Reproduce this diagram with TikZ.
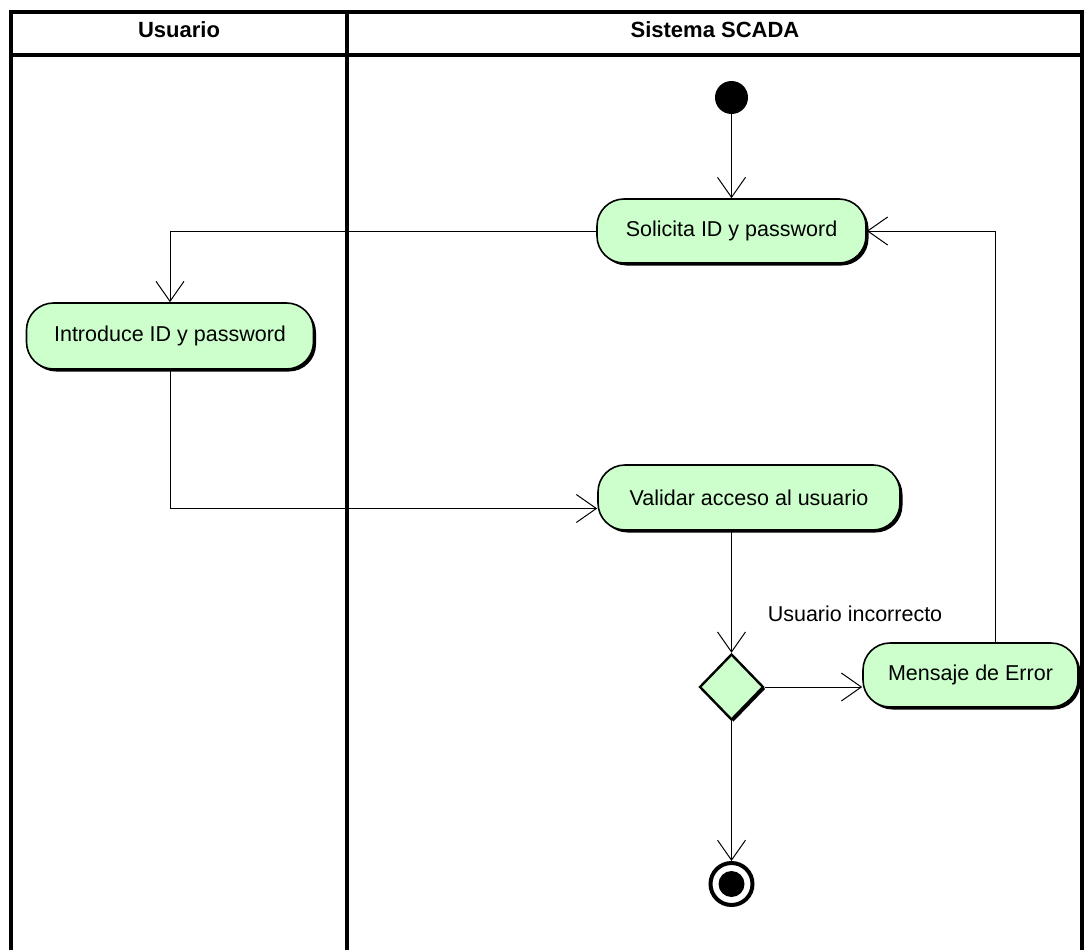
\documentclass[tikz,border=0pt]{standalone}
\usepackage{fontspec}
\setmainfont{Liberation Sans}
\usetikzlibrary{arrows.meta,shapes.geometric,shadows,calc}

\definecolor{actfill}{RGB}{204,255,204}

\tikzset{
  lane/.style={line width=4pt},
  action/.style={draw, line width=1.6pt, fill=actfill, rounded corners=27pt,
    inner sep=0pt, font=\fontsize{21.5}{24}\selectfont,
    drop shadow={shadow xshift=2.5pt, shadow yshift=-2.5pt, fill=black, opacity=1}},
  decision/.style={draw, diamond, line width=2.4pt, fill=actfill, inner sep=0pt,
    minimum width=64pt, minimum height=66pt,
    drop shadow={shadow xshift=2pt, shadow yshift=-2pt, fill=black, opacity=1}},
  flow/.style={line width=1pt, -{Straight Barb[length=20pt, width=28pt, line width=1pt]}},
  header/.style={font=\fontsize{22}{24}\selectfont\bfseries},
  label/.style={font=\fontsize{21.5}{24}\selectfont}
}

\begin{document}
\begin{tikzpicture}[x=1pt, y=-1pt]
  \useasboundingbox (0,0) rectangle (1085,950);
  \fill[white] (0,0) rectangle (1085,950);

  % swimlane frame
  \draw[lane] (11,950) -- (11,12) -- (1082,12) -- (1082,950);
  \draw[lane] (11,55) -- (1082,55);
  \draw[lane] (347,12) -- (347,950);
  \node[header] (hUser) at (179,30) {Usuario};
  \node[header] (hSys) at (715,30) {Sistema SCADA};

  % initial and final states
  \node[circle, fill=black, minimum size=33pt, inner sep=0pt] (start) at (731.5,97.5) {};
  \node[circle, draw, line width=4pt, minimum size=42pt, inner sep=0pt] (end) at (731.5,884) {};
  \fill (end.center) circle (13pt);

  % activities
  \node[action, minimum width=269pt, minimum height=64pt] (sol) at (731.5,231) {Solicita ID y password};
  \node[action, minimum width=287pt, minimum height=66pt] (intro) at (170,336) {Introduce ID y password};
  \node[action, minimum width=302pt, minimum height=65pt] (val) at (749,497.5) {Validar acceso al usuario};
  \node[decision] (dec) at (731.5,687) {};
  \node[action, minimum width=215pt, minimum height=64pt] (err) at (970.5,675) {Mensaje de Error};

  \node[label] (lblBad) at (855,614) {Usuario incorrecto};

  % transitions
  \draw[flow] (start) -- (sol.north);
  \draw[flow] (sol.west) -| (intro.north);
  \draw[flow] (intro.south) |- ([yshift=-11pt]val.west);
  \draw[flow] (val.south -| dec.north) -- (dec.north);
  \draw[flow] (dec.east) -- (dec.east -| err.west);
  \draw[flow] ([xshift=25pt]err.north) |- (sol.east);
  \draw[flow] (dec.south) -- (end.north);
\end{tikzpicture}
\end{document}
